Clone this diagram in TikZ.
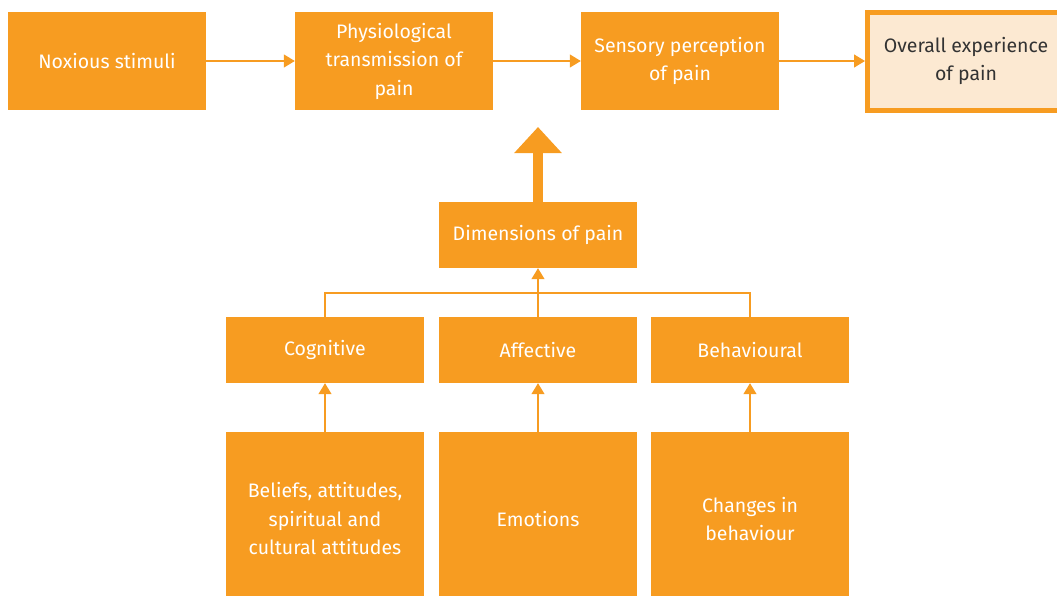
\documentclass[tikz,border=0pt]{standalone}
\usepackage{fontspec}
\setmainfont{Fira Sans}
\usetikzlibrary{arrows.meta}
\definecolor{org}{HTML}{F79C21}
\definecolor{lightorg}{HTML}{FCE9D2}
\definecolor{txt}{HTML}{333333}
\tikzset{
  box/.style={fill=org, text=white, minimum width=198pt, inner sep=0pt, align=center,
    font=\fontsize{19.5}{28.5}\selectfont},
  tall/.style={minimum height=98pt},
  short/.style={minimum height=66pt},
  finalbox/.style={fill=lightorg, draw=org, line width=5pt, text=txt, minimum width=197pt,
    minimum height=98pt, inner sep=0pt, align=center, font=\fontsize{19.5}{28.5}\selectfont},
  conn/.style={draw=org, line width=1.3pt},
  arr/.style={conn, -{Triangle[width=13pt,length=11pt]}},
}
\begin{document}
\begin{tikzpicture}[x=1pt,y=-1pt]
\useasboundingbox (0,0) rectangle (1057,595);
\clip (0,0) rectangle (1057,595);
% top row
\node[box,tall] (nox) at (107,61) {Noxious stimuli};
\node[box,tall] (phys) at (394,61) {Physiological\\transmission of\\pain};
\node[box,tall] (sens) at (680,61) {Sensory perception\\of pain};
\node[finalbox] (over) at (966,61) {Overall experience\\of pain};
% dimensions
\node[box,short] (dim) at (538,235) {Dimensions of pain};
\node[box,short] (cog) at (325,350) {Cognitive};
\node[box,short] (aff) at (538,350) {Affective};
\node[box,short] (beh) at (750,350) {Behavioural};
% bottom row
\node[box,minimum height=174pt] (bel) at (325,519) {Beliefs, attitudes,\\spiritual and\\cultural attitudes};
\node[box,minimum height=174pt] (emo) at (538,519) {Emotions};
\node[box,minimum height=174pt] (chg) at (750,519) {Changes in\\behaviour};
% top arrows
\draw[arr] (nox.east) -- (phys.west);
\draw[arr] (phys.east) -- (sens.west);
\draw[arr] (sens.east) -- (over.west);
% big arrow
\coordinate (bigtip) at (538,127);
\draw[org, line width=10pt, -{Triangle[width=46pt,length=26pt]}] (dim.north) -- (bigtip);
% tree
\coordinate (cj) at (325,293);
\coordinate (bj) at (750,293);
\draw[conn] (cog.north) -- (cj) -- (bj) -- (beh.north);
\draw[arr] (aff.north) -- (dim.south);
% bottom arrows
\draw[arr] (bel.north) -- (cog.south);
\draw[arr] (emo.north) -- (aff.south);
\draw[arr] (chg.north) -- (beh.south);
\end{tikzpicture}
\end{document}
